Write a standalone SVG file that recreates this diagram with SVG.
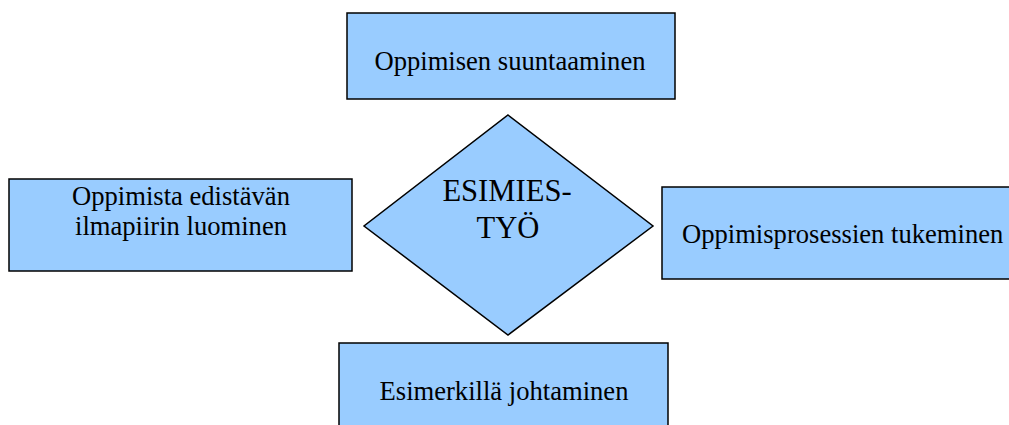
<svg xmlns="http://www.w3.org/2000/svg" width="1009" height="425" viewBox="0 0 1009 425">
  <style>
    .shape { fill: #99CCFF; stroke: #000; stroke-width: 1.5; }
    .label { font-family: "Liberation Serif", "Times New Roman", serif; font-size: 26.6px; fill: #000; text-anchor: middle; }
    .center { font-size: 30.6px; }
  </style>
  <rect width="1009" height="425" fill="#fff"/>
  <g id="connectors"></g>
  <g id="node-suuntaaminen">
    <rect class="shape" x="347" y="13" width="328" height="86"/>
    <text class="label" x="510" y="70">Oppimisen suuntaaminen</text>
  </g>
  <g id="node-ilmapiiri">
    <rect class="shape" x="9" y="179" width="343" height="92"/>
    <text class="label" x="181" y="205">Oppimista edistävän</text>
    <text class="label" x="181" y="235">ilmapiirin luominen</text>
  </g>
  <g id="node-esimiestyo">
    <polygon class="shape" points="508,115 653,226 508,335 364,226"/>
    <text class="label center" x="507" y="201">ESIMIES-</text>
    <text class="label center" x="508" y="238">TYÖ</text>
  </g>
  <g id="node-prosessit">
    <rect class="shape" x="662" y="187" width="352" height="92"/>
    <text class="label" x="682" y="243" style="text-anchor:start">Oppimisprosessien tukeminen</text>
  </g>
  <g id="node-esimerkki">
    <rect class="shape" x="339" y="343" width="329" height="90"/>
    <text class="label" x="504" y="400">Esimerkillä johtaminen</text>
  </g>
</svg>
